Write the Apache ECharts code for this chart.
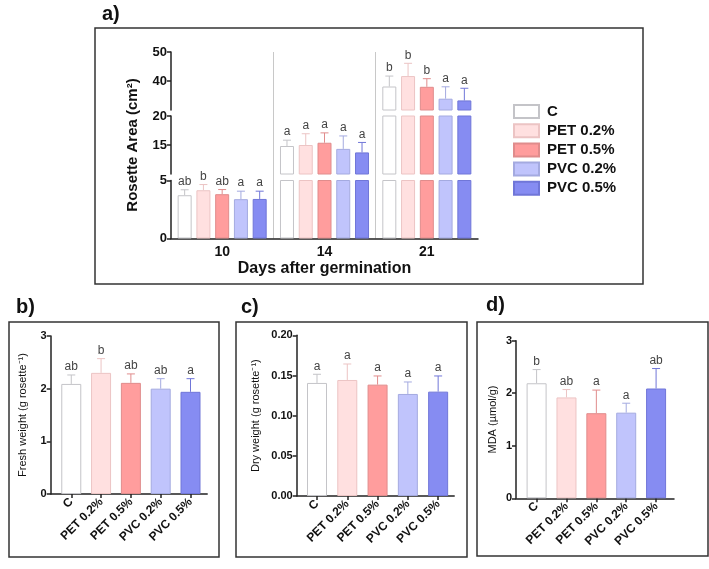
<!DOCTYPE html>
<html>
<head>
<meta charset="utf-8">
<title>Rosette area, fresh weight, dry weight and MDA</title>
<script src="https://cdn.jsdelivr.net/npm/echarts@6/dist/echarts.min.js"></script>
<style>
    html, body { margin: 0; padding: 0; background: #fff; }
    #chart { width: 709px; height: 569px; }
</style>
</head>
<body>
<div id="chart"></div>
<script>
var treatments = ['C', 'PET 0.2%', 'PET 0.5%', 'PVC 0.2%', 'PVC 0.5%'];
var days = ['10', '14', '21'];

// rosette area (cm2), one row per treatment: day 10, 14, 21
var areaMean = [
    [3.73, 14.83, 38.1],
    [4.16, 15.0, 41.7],
    [3.82, 15.39, 38.0],
    [3.39, 14.33, 33.9],
    [3.41, 13.72, 33.3]
];
var areaErr = [
    [0.47, 1.0, 3.6],
    [0.49, 1.94, 4.4],
    [0.40, 1.7, 2.8],
    [0.69, 2.23, 4.1],
    [0.67, 1.72, 4.2]
];
var areaLetters = [
    ['ab', 'a', 'b'],
    ['b', 'a', 'b'],
    ['ab', 'a', 'b'],
    ['a', 'a', 'a'],
    ['a', 'a', 'a']
];

// broken y axis: segments from top to bottom
var areaSegMin = [30, 10, 0];
var areaSegMax = [50, 20, 5];
var areaSegStep = [10, 5, 5];
var areaSegLabels = [[40, 50], [15, 20], [0, 5]];

var freshMean = [2.09, 2.30, 2.11, 2.00, 1.94];
var freshErr = [0.17, 0.27, 0.17, 0.19, 0.25];
var freshLetters = ['ab', 'b', 'ab', 'ab', 'a'];

var dryMean = [0.1407, 0.1444, 0.1386, 0.1270, 0.1299];
var dryErr = [0.0108, 0.0199, 0.0108, 0.0149, 0.0195];
var dryLetters = ['a', 'a', 'a', 'a', 'a'];

var mdaMean = [2.19, 1.92, 1.62, 1.63, 2.09];
var mdaErr = [0.26, 0.15, 0.44, 0.18, 0.38];
var mdaLetters = ['b', 'ab', 'a', 'a', 'ab'];

var fills = ['#ffffff', '#ffe0e0', '#ff9d9d', '#c0c4fc', '#868cf2'];
var borders = ['#c4c4c8', '#ecc4c4', '#e08c8c', '#a4aae0', '#7076d8'];

var FONT = 'Liberation Sans, Arial, sans-serif';
var AXIS_COLOR = '#222';
var BAR_W = 14, BAR_GAP = 0.34;   // panel a
var SMALL_BAR_W = 20;

//误差线 + 字母
function errorBar(x, y0, y1, color, letter) {
    return {
        type: 'group',
        children: [
            {type: 'line', shape: {x1: x, y1: y0, x2: x, y2: y1}, style: {stroke: color, lineWidth: 1}},
            {type: 'line', shape: {x1: x - 4, y1: y1, x2: x + 4, y2: y1}, style: {stroke: color, lineWidth: 1}},
            {type: 'text', x: x, y: y1 - 2, style: {
                text: letter, fill: '#444', font: '12px ' + FONT,
                align: 'center', verticalAlign: 'bottom',
                textAlign: 'center', textVerticalAlign: 'bottom'
            }}
        ]
    };
}

function segOf(v) {
    for (var g = 0; g < areaSegMin.length; g++) {
        if (v >= areaSegMin[g] && v <= areaSegMax[g]) return g;
    }
    return -1;
}

var grids = [
    {left: 171, top: 52, width: 307, height: 58},
    {left: 171, top: 116, width: 307, height: 58},
    {left: 171, top: 180.5, width: 307, height: 58},
    {left: 171, top: 52, width: 307, height: 186.5},      // separators
    {left: 50.7, top: 336, width: 156.5, height: 158},    // b
    {left: 296.7, top: 335.3, width: 157.5, height: 160.7}, // c
    {left: 516, top: 340.7, width: 158, height: 157.6}    // d
];

var xAxes = [], yAxes = [], series = [];

// ---- panel a ----
for (var g = 0; g < 3; g++) {
    xAxes.push({
        type: 'category',
        gridIndex: g,
        data: days,
        show: g === 2,
        axisLine: {lineStyle: {color: AXIS_COLOR, width: 1.5}},
        axisTick: {show: false},
        axisLabel: {color: '#111', fontWeight: 'bold', fontSize: 14, fontFamily: FONT, margin: 7},
        splitLine: {show: false},
        name: g === 2 ? 'Days after germination' : '',
        nameLocation: 'middle',
        nameGap: 21,
        nameTextStyle: {color: '#111', fontWeight: 'bold', fontSize: 16, fontFamily: FONT}
    });
    yAxes.push({
        type: 'value',
        gridIndex: g,
        min: areaSegMin[g],
        max: areaSegMax[g],
        interval: areaSegStep[g],
        axisLine: {show: true, lineStyle: {color: AXIS_COLOR, width: 1.5}},
        axisTick: {show: true, length: 4, lineStyle: {color: AXIS_COLOR, width: 1.5},
            customValues: areaSegLabels[g]},
        axisLabel: {color: '#111', fontWeight: 'bold', fontSize: 13, fontFamily: FONT, margin: 4,
            customValues: areaSegLabels[g]},
        splitLine: {show: false},
        name: g === 1 ? 'Rosette Area (cm²)' : '',
        nameLocation: 'middle',
        nameGap: 31,
        nameTextStyle: {color: '#111', fontWeight: 'bold', fontSize: 15, fontFamily: FONT}
    });
    for (var t = 0; t < treatments.length; t++) {
        series.push({
            type: 'bar',
            name: treatments[t],
            xAxisIndex: g,
            yAxisIndex: g,
            data: areaMean[t],
            barWidth: BAR_W,
            barGap: (BAR_GAP * 100) + '%',
            clip: true,
            itemStyle: {color: fills[t], borderColor: borders[t], borderWidth: 1},
            emphasis: {disabled: true}
        });
    }
}

// error bars of panel a, each one put in the segment that holds it
function areaErrorSeries(g) {
    var items = [];
    for (var t = 0; t < treatments.length; t++) {
        for (var d = 0; d < days.length; d++) {
            if (segOf(areaMean[t][d] + areaErr[t][d]) === g) {
                items.push([d, areaMean[t][d], areaErr[t][d], t]);
            }
        }
    }
    return {
        type: 'custom',
        xAxisIndex: g,
        yAxisIndex: g,
        data: items,
        silent: true,
        renderItem: function (params, api) {
            var d = api.value(0), m = api.value(1), e = api.value(2), t = api.value(3);
            var total = treatments.length * BAR_W + (treatments.length - 1) * BAR_W * BAR_GAP;
            var offset = -total / 2 + t * BAR_W * (1 + BAR_GAP) + BAR_W / 2;
            var p0 = api.coord([d, m]);
            var p1 = api.coord([d, m + e]);
            return errorBar(p0[0] + offset, p0[1], p1[1], borders[t], areaLetters[t][d]);
        }
    };
}
for (var g2 = 0; g2 < 3; g2++) {
    series.push(areaErrorSeries(g2));
}

// 分组之间的竖线
xAxes.push({
    type: 'category', gridIndex: 3, data: days,
    axisLine: {show: false}, axisTick: {show: false}, axisLabel: {show: false},
    splitLine: {show: true, showMinLine: false, showMaxLine: false, lineStyle: {color: '#c8c8c8', width: 1}}
});
yAxes.push({type: 'value', gridIndex: 3, show: false, splitLine: {show: false}});

// ---- panels b, c, d ----
var panels = [
    {mean: freshMean, err: freshErr, letters: freshLetters, name: 'Fresh weight (g rosette⁻¹)',
        max: 3, step: 1, digits: 0, nameGap: 22, xMin: -0.69, xMax: 4.56},
    {mean: dryMean, err: dryErr, letters: dryLetters, name: 'Dry weight (g rosette⁻¹)',
        max: 0.2, step: 0.05, digits: 2, nameGap: 35, xMin: -0.67, xMax: 4.53},
    {mean: mdaMean, err: mdaErr, letters: mdaLetters, name: 'MDA (µmol/g)',
        max: 3, step: 1, digits: 0, nameGap: 18, xMin: -0.69, xMax: 4.6}
];

function smallPanel(p, idx) {
    var gi = 4 + idx;
    xAxes.push({
        type: 'value', gridIndex: gi, min: p.xMin, max: p.xMax,
        axisLine: {onZero: false, lineStyle: {color: AXIS_COLOR, width: 1.5}},
        axisTick: {show: true, length: 4, lineStyle: {color: AXIS_COLOR, width: 1.5},
            customValues: [0, 1, 2, 3, 4]},
        axisLabel: {
            customValues: [0, 1, 2, 3, 4],
            rotate: 45, margin: 6, color: '#111', fontWeight: 'bold', fontSize: 12, fontFamily: FONT,
            formatter: function (v) { return treatments[Math.round(v)]; }
        },
        splitLine: {show: false}
    });
    yAxes.push({
        type: 'value', gridIndex: gi, min: 0, max: p.max, interval: p.step,
        axisLine: {show: true, onZero: false, lineStyle: {color: AXIS_COLOR, width: 1.5}},
        axisTick: {show: true, length: 4, lineStyle: {color: AXIS_COLOR, width: 1.5}},
        axisLabel: {color: '#111', fontWeight: 'bold', fontSize: 11, fontFamily: FONT, margin: 4,
            formatter: function (v) { return v.toFixed(p.digits); }},
        splitLine: {show: false},
        name: p.name,
        nameLocation: 'middle',
        nameGap: p.nameGap,
        nameTextStyle: {color: '#111', fontSize: 11, fontFamily: FONT}
    });
    series.push({
        type: 'bar',
        name: p.name,
        xAxisIndex: gi,
        yAxisIndex: gi,
        barWidth: SMALL_BAR_W,
        data: p.mean.map(function (m, i) {
            return {value: [i, m], itemStyle: {color: fills[i], borderColor: borders[i], borderWidth: 1}};
        }),
        emphasis: {disabled: true}
    });
    series.push({
        type: 'custom',
        xAxisIndex: gi,
        yAxisIndex: gi,
        silent: true,
        data: p.mean.map(function (m, i) { return [i, m, p.err[i]]; }),
        renderItem: function (params, api) {
            var i = api.value(0), m = api.value(1), e = api.value(2);
            var p0 = api.coord([i, m]);
            var p1 = api.coord([i, m + e]);
            return errorBar(p0[0], p0[1], p1[1], borders[i], p.letters[params.dataIndex]);
        }
    });
}
panels.forEach(smallPanel);

var titleStyle = {fontSize: 20, fontWeight: 'bold', color: '#111', fontFamily: FONT};
var frameStyle = {fill: 'none', stroke: '#333', lineWidth: 1.5};

var myChart = echarts.init(document.getElementById('chart'), null, {renderer: 'canvas'});
myChart.setOption({
    backgroundColor: '#fff',
    animation: false,
    title: [
        {text: 'a)', left: 102, top: 4, padding: 0, textStyle: titleStyle},
        {text: 'b)', left: 16, top: 297, padding: 0, textStyle: titleStyle},
        {text: 'c)', left: 241, top: 297, padding: 0, textStyle: titleStyle},
        {text: 'd)', left: 486, top: 295, padding: 0, textStyle: titleStyle}
    ],
    legend: {
        data: treatments,
        orient: 'vertical',
        left: 513,
        top: 104,
        padding: 0,
        icon: 'rect',
        itemWidth: 25,
        itemHeight: 13,
        itemGap: 4.2,
        selectedMode: false,
        textStyle: {color: '#111', fontWeight: 'bold', fontSize: 15, fontFamily: FONT, padding: [0, 0, 0, 3]}
    },
    graphic: [
        {type: 'rect', silent: true, shape: {x: 95, y: 28, width: 548, height: 256}, style: frameStyle},
        {type: 'rect', silent: true, shape: {x: 9, y: 322, width: 210, height: 235}, style: frameStyle},
        {type: 'rect', silent: true, shape: {x: 236, y: 322, width: 231, height: 235}, style: frameStyle},
        {type: 'rect', silent: true, shape: {x: 477, y: 322, width: 231, height: 234}, style: frameStyle}
    ],
    grid: grids,
    xAxis: xAxes,
    yAxis: yAxes,
    series: series
});
</script>
</body>
</html>
